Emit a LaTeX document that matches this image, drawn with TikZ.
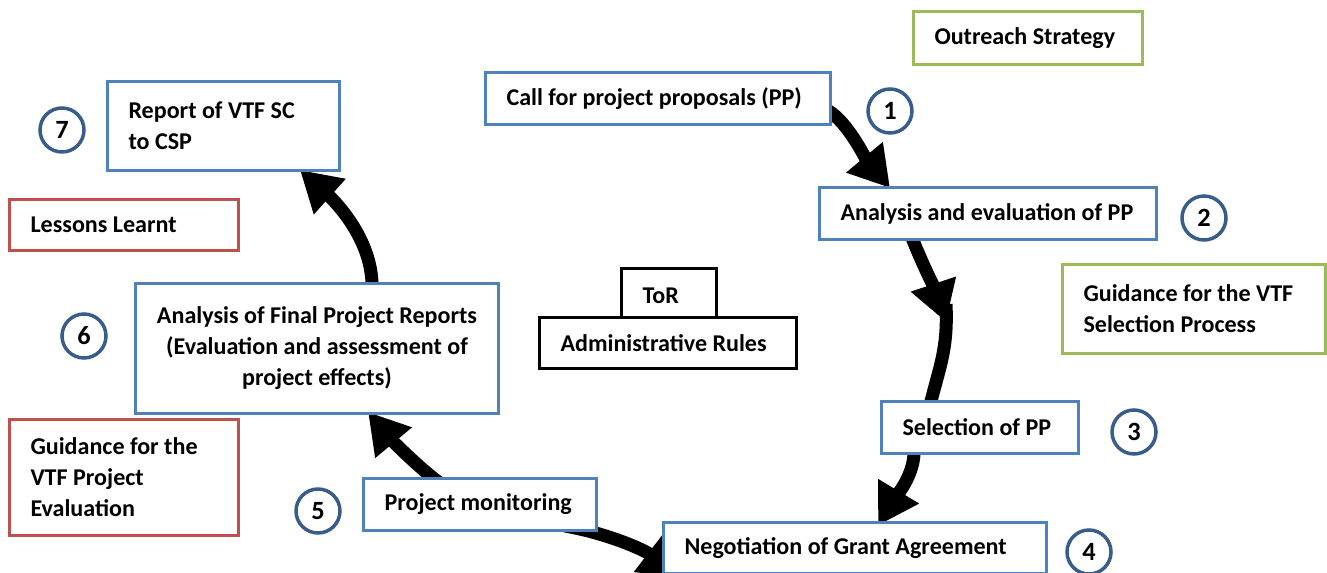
\documentclass[tikz,border=0pt]{standalone}
\usepackage{fontspec}
\setmainfont{Carlito}
\usetikzlibrary{arrows.meta,calc,backgrounds}
\definecolor{boxblue}{HTML}{4F81BD}
\definecolor{boxgreen}{HTML}{9BBB59}
\definecolor{boxred}{HTML}{C0504D}
\definecolor{circblue}{HTML}{385D8A}
\begin{document}
\begin{tikzpicture}[
  x=0.02cm, y=-0.02cm,
  box/.style 2 args={rectangle, draw, fill=white, line width=0.06cm, inner xsep=0.42cm, inner ysep=0pt, text width=#1, minimum height=#2, align=flush left},
  bigbox/.style={rectangle, draw=boxblue, fill=white, line width=0.06cm, minimum width=7.26cm, minimum height=2.6cm, align=center},
  num/.style={circle, draw=circblue, line width=0.07cm, minimum size=0.88cm, inner sep=0pt, font=\fontsize{15}{15}\selectfont\bfseries},
  flow/.style={line width=0.26cm, -{Triangle[width=0.9cm,length=0.8cm]}},
  font=\fontsize{13.7}{17.6}\selectfont\bfseries
]
\useasboundingbox (0,0) rectangle (1327,573);

% Project cycle
\node[box={6.06cm}{1.04cm}, draw=boxblue] (call) at (658,98.5) {Call for project proposals (PP)};
\node[box={5.90cm}{1.04cm}, draw=boxblue] (analysis) at (988,213.5) {Analysis and evaluation of PP};
\node[box={3.10cm}{1.04cm}, draw=boxblue] (selection) at (980,427.5) {Selection of PP};
\node[box={6.82cm}{1.04cm}, draw=boxblue] (negotiation) at (855,548) {Negotiation of Grant Agreement};
\node[box={3.82cm}{1.04cm}, draw=boxblue] (monitoring) at (480,504.5) {Project monitoring};
\node[bigbox] (finalrep) at (317,348.5) {Analysis of Final Project Reports\\(Evaluation and assessment of\\project effects)};
\node[box={3.80cm}{1.78cm}, draw=boxblue] (report) at (223.5,126) {Report of VTF SC\\to CSP};

% Guidance documents
\node[box={3.74cm}{1.06cm}, draw=boxgreen] (outreach) at (1028,38) {Outreach Strategy};
\node[box={4.42cm}{1.78cm}, draw=boxgreen] (selguide) at (1194,309) {Guidance for the VTF\\Selection Process};
\node[box={3.74cm}{1.02cm}, draw=boxred] (lessons) at (124,225) {Lessons Learnt};
\node[box={3.74cm}{2.32cm}, draw=boxred] (evalguide) at (124,477.5) {Guidance for the\\VTF Project\\Evaluation};

% Rules
\node[box={1.06cm}{1.1cm}, draw=black] (tor) at (669,296) {ToR};
\node[box={4.30cm}{1.02cm}, draw=black] (admin) at (668,343) {Administrative Rules};

% Step numbers
\node[num] (n1) at (890,111) {1};
\node[num] (n2) at (1204,218) {2};
\node[num] (n3) at (1134,432) {3};
\node[num] (n4) at (1089,552) {4};
\node[num] (n5) at (318,511) {5};
\node[num] (n6) at (84,336) {6};
\node[num] (n7) at (62,130) {7};

% Arrows
\begin{scope}[on background layer]
\coordinate (turn) at (946,322);
\draw[flow] ($(call.east)+(-4,12)$) .. controls +(20,12) and +(-25,-30) .. ($(analysis.north west)+(72,2)$);
\draw[flow] ($(analysis.south west)+(94,-3)$) .. controls +(10,25) and +(-10,-30) .. (turn);
\draw[line width=0.26cm] ($(turn)+(0,-18)$) .. controls +(2,45) and +(10,-40) .. ($(selection.north west)+(50,5)$);
\draw[flow] ($(selection.south west)+(34,-3)$) .. controls +(0,25) and +(15,-25) .. ($(negotiation.north west)+(216,5)$);
\draw[flow] ($(monitoring.south east)+(-33,-6)$) .. controls +(45,8) and +(-35,-27) .. ($(negotiation.south west)+(18,2)$);
\draw[flow] ($(monitoring.north west)+(88,13)$) .. controls +(-25,-15) and +(20,24) .. ($(finalrep.south west)+(234,-3)$);
\draw[flow] ($(finalrep.north west)+(238,4)$) .. controls +(0,-45) and +(38,34) .. ($(report.south east)+(-41,-2)$);
\end{scope}
\end{tikzpicture}
\end{document}
